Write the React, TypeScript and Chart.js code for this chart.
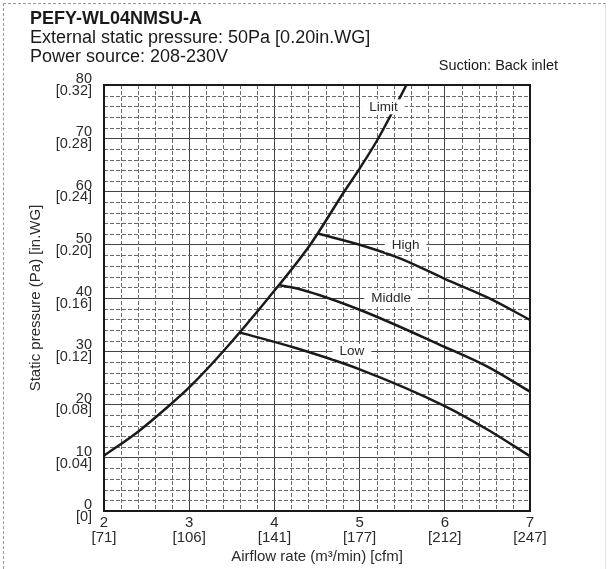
import React, { useEffect, useRef } from "react";
import { Chart, registerables } from "chart.js";

Chart.register(...registerables);

// ---------- data ----------
const titleText = "PEFY-WL04NMSU-A";
const subtitleLines = ["External static pressure: 50Pa [0.20in.WG]", "Power source: 208-230V"];
const noteText = "Suction: Back inlet";
const xAxisTitle = "Airflow rate (m³/min) [cfm]";
const yAxisTitle = "Static pressure (Pa) [in.WG]";

const xTickValues = [2, 3, 4, 5, 6, 7];
const xTickM3 = ["2", "3", "4", "5", "6", "7"];
const xTickCfm = ["[71]", "[106]", "[141]", "[177]", "[212]", "[247]"];

const yTickValues = [0, 10, 20, 30, 40, 50, 60, 70, 80];
const yTickPa = ["0", "10", "20", "30", "40", "50", "60", "70", "80"];
const yTickInWG = ["[0]", "[0.04]", "[0.08]", "[0.12]", "[0.16]", "[0.20]", "[0.24]", "[0.28]", "[0.32]"];

const limitX = [2, 2.4, 2.78, 3, 3.4, 3.93, 4.42, 4.82, 5.0, 5.22, 5.55];
const limitY = [10.4, 14.9, 20, 23.2, 30, 40, 50, 60, 64.3, 70, 80];

const highX = [4.51, 5, 5.48, 6, 6.5, 7];
const highY = [52.1, 50, 47.4, 43.6, 40.1, 35.9];

const middleX = [4.06, 4.31, 5, 6, 6.5, 7];
const middleY = [42.4, 41.6, 37.8, 30.8, 27.1, 22.4];

const lowX = [3.6, 4.25, 5, 6, 6.5, 7];
const lowY = [33.5, 30.6, 26.6, 19.7, 15.3, 10.3];

const curveLabels = ["Limit", "High", "Middle", "Low"];
const curveLabelX = [5.28, 5.54, 5.37, 4.91];
const curveLabelY = [75.9, 50, 40, 30];

const X_MIN = 2, X_MAX = 7, Y_MIN = 0, Y_MAX = 80;
const MINOR_X_STEP = 0.2;
const MINOR_Y_STEP = 2;
const MAJOR_Y_STEP = 10;

const FONT = '"Liberation Sans", Arial, Helvetica, sans-serif';

const toPts = (xs: number[], ys: number[]) => xs.map((x, i) => ({ x, y: ys[i] }));

const overlayPlugin = {
  id: "overlay",
  beforeDatasetsDraw(chart: any) {
    const { ctx, chartArea: a, scales } = chart;
    const xs = scales.x, ys = scales.y;
    ctx.save();
    ctx.strokeStyle = "#6a6a6a";
    ctx.lineWidth = 1;
    ctx.setLineDash([4, 2]);
    const nx = Math.round((X_MAX - X_MIN) / MINOR_X_STEP);
    for (let i = 1; i < nx; i++) {
      const v = X_MIN + i * MINOR_X_STEP;
      if (Math.abs(v - Math.round(v)) < 1e-6) continue;
      const px = Math.round(xs.getPixelForValue(v)) + 0.5;
      ctx.beginPath();
      ctx.moveTo(px, a.top);
      ctx.lineTo(px, a.bottom);
      ctx.stroke();
    }
    const ny = Math.round((Y_MAX - Y_MIN) / MINOR_Y_STEP);
    for (let i = 1; i < ny; i++) {
      const v = Y_MIN + i * MINOR_Y_STEP;
      if (v % MAJOR_Y_STEP === 0) continue;
      const py = Math.round(ys.getPixelForValue(v)) + 0.5;
      ctx.beginPath();
      ctx.moveTo(a.left, py);
      ctx.lineTo(a.right, py);
      ctx.stroke();
    }
    ctx.restore();
  },
  afterDatasetsDraw(chart: any) {
    const { ctx, chartArea: a, scales } = chart;
    ctx.save();
    ctx.font = `13.5px ${FONT}`;
    ctx.textAlign = "center";
    ctx.textBaseline = "middle";
    curveLabels.forEach((t, i) => {
      const px = scales.x.getPixelForValue(curveLabelX[i]);
      const py = scales.y.getPixelForValue(curveLabelY[i]);
      const w = ctx.measureText(t).width + 14;
      const h = 15;
      ctx.fillStyle = "#ffffff";
      ctx.fillRect(px - w / 2, py - h / 2, w, h);
      ctx.fillStyle = "#2a2a2a";
      ctx.fillText(t, px, py + 0.5);
    });
    ctx.strokeStyle = "#1a1a1a";
    ctx.lineWidth = 2;
    ctx.setLineDash([]);
    ctx.strokeRect(a.left, a.top, a.right - a.left, a.bottom - a.top);
    ctx.restore();
  },
  afterDraw(chart: any) {
    const { ctx } = chart;
    ctx.save();
    ctx.fillStyle = "#1a1a1a";
    ctx.textBaseline = "alphabetic";
    ctx.textAlign = "left";
    ctx.font = `bold 18px ${FONT}`;
    ctx.fillText(titleText, 30, 24);
    ctx.font = `18px ${FONT}`;
    ctx.fillText(subtitleLines[0], 30, 43);
    ctx.fillText(subtitleLines[1], 30, 62);
    ctx.font = `14.5px ${FONT}`;
    ctx.textAlign = "right";
    ctx.fillText(noteText, 558, 70);
    ctx.restore();
  },
};

export default function App() {
  const ref = useRef<HTMLCanvasElement | null>(null);
  useEffect(() => {
    if (!ref.current) return;
    const lineStyle = {
      borderColor: "#1a1a1a",
      borderWidth: 2.5,
      pointRadius: 0,
      fill: false,
      cubicInterpolationMode: "monotone" as const,
      tension: 0.4,
    };
    const chart = new Chart(ref.current, {
      type: "line",
      data: {
        datasets: [
          { label: "Limit", data: toPts(limitX, limitY), ...lineStyle },
          { label: "High", data: toPts(highX, highY), ...lineStyle },
          { label: "Middle", data: toPts(middleX, middleY), ...lineStyle },
          { label: "Low", data: toPts(lowX, lowY), ...lineStyle },
        ],
      },
      options: {
        responsive: false,
        animation: false,
        devicePixelRatio: 1,
        layout: { padding: { left: 0, top: 85, right: 79, bottom: 0 } },
        plugins: { legend: { display: false }, tooltip: { enabled: false }, title: { display: false } },
        scales: {
          x: {
            type: "linear",
            min: X_MIN,
            max: X_MAX,
            afterFit: (s: any) => { s.height = 58; },
            afterBuildTicks: (s: any) => { s.ticks = xTickValues.map((v) => ({ value: v })); },
            grid: { color: "#444444", lineWidth: 1, drawTicks: false },
            border: { display: false },
            ticks: {
              padding: 4.5,
              maxRotation: 0,
              autoSkip: false,
              color: "#2a2a2a",
              font: { family: FONT, size: 15, lineHeight: 1.0 },
              callback: (v: any) => {
                const i = xTickValues.indexOf(Number(v));
                return i < 0 ? "" : [xTickM3[i], xTickCfm[i]];
              },
            },
            title: {
              display: true,
              text: xAxisTitle,
              color: "#2a2a2a",
              font: { family: FONT, size: 15, lineHeight: 1.2 },
              padding: { top: 0, bottom: 3 },
            },
          },
          y: {
            type: "linear",
            min: Y_MIN,
            max: Y_MAX,
            afterFit: (s: any) => { s.width = 104; },
            afterBuildTicks: (s: any) => { s.ticks = yTickValues.map((v) => ({ value: v })); },
            grid: { color: "#444444", lineWidth: 1, drawTicks: false },
            border: { display: false },
            ticks: {
              padding: 12,
              autoSkip: false,
              color: "#2a2a2a",
              font: { family: FONT, size: 14.5, lineHeight: 0.82 },
              callback: (v: any) => {
                const i = yTickValues.indexOf(Number(v));
                return i < 0 ? "" : [yTickPa[i], yTickInWG[i]];
              },
            },
            title: {
              display: true,
              text: yAxisTitle,
              color: "#2a2a2a",
              font: { family: FONT, size: 15, lineHeight: 1.2 },
              padding: { top: 27, bottom: 0 },
            },
          },
        },
      },
      plugins: [overlayPlugin],
    });
    return () => chart.destroy();
  }, []);

  return (
    <div style={{ position: "absolute", left: 0, top: 0, width: 609, height: 569, background: "#fff" }}>
      <canvas ref={ref} width={609} height={569} style={{ display: "block", width: 609, height: 569 }} />
      <div
        style={{
          position: "absolute",
          left: 3,
          top: 3,
          width: 603,
          height: 566,
          borderTop: "1px dashed #9a9a9a",
          borderLeft: "1px dashed #9a9a9a",
          borderRight: "1px solid #e4e4e4",
          pointerEvents: "none",
          boxSizing: "border-box",
        }}
      />
    </div>
  );
}
